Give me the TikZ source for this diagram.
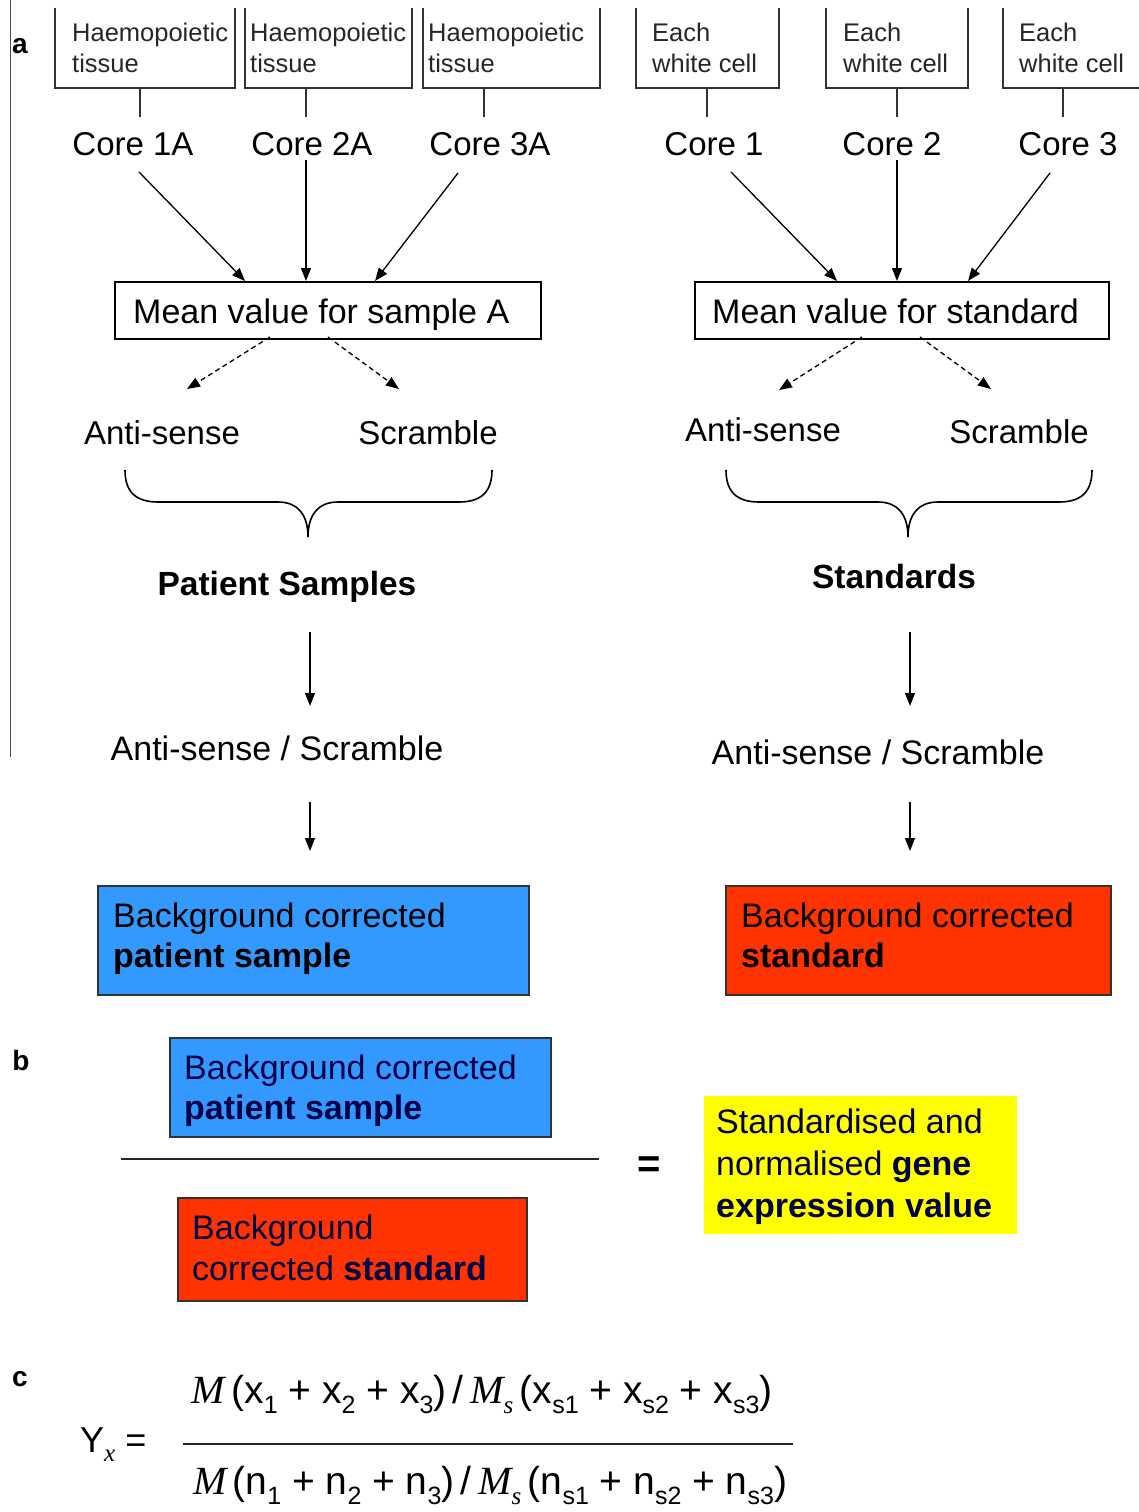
\documentclass[tikz,border=0pt]{standalone}
\usepackage{fontspec}
\setmainfont{Liberation Sans}
\newfontfamily\serifit{Liberation Serif}
\usetikzlibrary{arrows.meta,calc}
\definecolor{boxblue}{RGB}{51,153,255}
\definecolor{boxred}{RGB}{255,51,0}
\definecolor{boxyellow}{RGB}{255,255,0}
\definecolor{navytxt}{RGB}{0,0,70}
\newcommand{\fs}[1]{\fontsize{#1}{#1}\selectfont}
\newcommand{\sbs}[1]{\raisebox{-0.27em}{\fs{25}#1}}
\newcommand{\sbi}[1]{\raisebox{-0.27em}{\fs{25}\serifit\itshape #1}}
\newcommand{\Mit}{{\serifit\itshape\fs{40}M}}
\begin{document}
\begin{tikzpicture}[x=1pt,y=-1pt,
  small/.style={font=\fs{25.5}, inner sep=0, anchor=base west, text=black!85},
  lab/.style={font=\fs{33}, inner sep=0, anchor=base},
  btxt/.style={font=\fs{34}, inner sep=0, anchor=base west},
  arr/.style={-{Triangle[length=13pt,width=10pt]}, line width=1.3pt},
  darr/.style={arr, dash pattern=on 5pt off 3.5pt},
  thinln/.style={line width=1.1pt, draw=black!80},
  meanbox/.style={draw, line width=1.3pt, inner sep=0},
  colbox/.style={draw=black!80, line width=1.6pt, inner sep=0},
  panel/.style={font=\bfseries\fs{28}, inner sep=0, anchor=base},
  brace/.style={line width=1.6pt},
]
\useasboundingbox (0,0) rectangle (1139,1512);

% panel letters and side rule
\node[panel] (pa) at (20,53) {a};
\node[panel] (pb) at (21,1070) {b};
\node[panel] (pc) at (20,1386) {c};
\draw[line width=0.8pt, black!70] (10,0) -- (10,757);

% ---------- top boxes, left ----------
\draw[thinln] (55,8) -- (55,88) -- (235,88) -- (235,8);
\draw[thinln] (245,8) -- (245,88) -- (412,88) -- (412,8);
\draw[thinln] (423,8) -- (423,88) -- (600,88) -- (600,8);
\node[small] (h1a) at (72,42) {Haemopoietic};
\node[small] (h1b) at (72,72) {tissue};
\node[small] (h2a) at (250,42) {Haemopoietic};
\node[small] (h2b) at (250,72) {tissue};
\node[small] (h3a) at (428,42) {Haemopoietic};
\node[small] (h3b) at (428,72) {tissue};
\coordinate (t1) at (140,88); \coordinate (t1e) at (140,117);
\coordinate (t2) at (306,88); \coordinate (t2e) at (306,117);
\coordinate (t3) at (484,88); \coordinate (t3e) at (484,117);
\draw[thinln] (t1) -- (t1e);
\draw[thinln] (t2) -- (t2e);
\draw[thinln] (t3) -- (t3e);

% ---------- top boxes, right ----------
\draw[thinln] (636,8) -- (636,88) -- (779,88) -- (779,8);
\draw[thinln] (826,8) -- (826,88) -- (968,88) -- (968,8);
\draw[thinln] (1003,8) -- (1003,88) -- (1139,88);
\node[small] (e1a) at (652,42) {Each};
\node[small] (e1b) at (652,72) {white cell};
\node[small] (e2a) at (843,42) {Each};
\node[small] (e2b) at (843,72) {white cell};
\node[small] (e3a) at (1019,42) {Each};
\node[small] (e3b) at (1019,72) {white cell};
\coordinate (t4) at (707,88); \coordinate (t4e) at (707,117);
\coordinate (t5) at (897,88); \coordinate (t5e) at (897,117);
\coordinate (t6) at (1063,88); \coordinate (t6e) at (1063,117);
\draw[thinln] (t4) -- (t4e);
\draw[thinln] (t5) -- (t5e);
\draw[thinln] (t6) -- (t6e);

% ---------- cores ----------
\node[lab] (c1a) at (133,155) {Core 1A};
\node[lab] (c2a) at (312,155) {Core 2A};
\node[lab] (c3a) at (490,155) {Core 3A};
\node[lab] (c1) at (714,155) {Core 1};
\node[lab] (c2) at (892,155) {Core 2};
\node[lab] (c3) at (1068,155) {Core 3};

% ---------- mean boxes ----------
\node[meanbox, minimum width=426pt, minimum height=57pt] (meanA) at (328,310.5) {};
\node[btxt] (meanAt) at (133,323) {Mean value for sample A};
\node[meanbox, minimum width=414pt, minimum height=57pt] (meanS) at (902,310.5) {};
\node[btxt] (meanSt) at (712,323) {Mean value for standard};

\coordinate (a1s) at (139,172); \coordinate (a1e) at (245,281);
\coordinate (a2s) at (306,160); \coordinate (a2e) at (306,281);
\coordinate (a3s) at (458,173); \coordinate (a3e) at (375,281);
\draw[arr] (a1s) -- (a1e);
\draw[arr] (a2s) -- (a2e);
\draw[arr] (a3s) -- (a3e);
\coordinate (b1s) at (731,172); \coordinate (b1e) at (837,281);
\coordinate (b2s) at (897,160); \coordinate (b2e) at (897,281);
\coordinate (b3s) at (1050,173); \coordinate (b3e) at (968,281);
\draw[arr] (b1s) -- (b1e);
\draw[arr] (b2s) -- (b2e);
\draw[arr] (b3s) -- (b3e);

% ---------- anti-sense / scramble ----------
\node[lab] (asA) at (162,444) {Anti-sense};
\node[lab] (scA) at (428,444) {Scramble};
\node[lab] (asS) at (763,441) {Anti-sense};
\node[lab] (scS) at (1019,443) {Scramble};
\draw[darr] (270,337) -- (187,389);
\draw[darr] (328,337) -- (399,389);
\draw[darr] (862,337) -- (779,390);
\draw[darr] (920,337) -- (991,389);

% ---------- braces ----------
\draw[brace] (125,470) .. controls (125,492) and (136,502) .. (158,502) -- (278,502)
  .. controls (298,502) and (308,515) .. (308,537)
  .. controls (308,515) and (318,502) .. (338,502) -- (459,502)
  .. controls (481,502) and (492,492) .. (492,470);
\draw[brace] (726,470) .. controls (726,492) and (737,502) .. (759,502) -- (878,502)
  .. controls (898,502) and (908,515) .. (908,537)
  .. controls (908,515) and (918,502) .. (938,502) -- (1059,502)
  .. controls (1081,502) and (1092,492) .. (1092,470);

\node[lab, font=\bfseries\fs{33.5}] (ps) at (287,595) {Patient Samples};
\node[lab, font=\bfseries\fs{33.5}] (st) at (894,588) {Standards};

\coordinate (p1s) at (310,632); \coordinate (p1e) at (310,706);
\coordinate (q1s) at (910,632); \coordinate (q1e) at (910,706);
\draw[arr] (p1s) -- (p1e);
\draw[arr] (q1s) -- (q1e);
\node[lab, font=\fs{34}] (rA) at (277,760) {Anti-sense / Scramble};
\node[lab, font=\fs{34}] (rS) at (878,764) {Anti-sense / Scramble};
\coordinate (p2s) at (310,802); \coordinate (p2e) at (310,851);
\coordinate (q2s) at (910,802); \coordinate (q2e) at (910,851);
\draw[arr] (p2s) -- (p2e);
\draw[arr] (q2s) -- (q2e);

% ---------- coloured boxes a ----------
\node[colbox, fill=boxblue, minimum width=431pt, minimum height=109pt] (blueA) at (313.5,940.5) {};
\node[btxt] (blueA1) at (113,927) {Background corrected};
\node[btxt] (blueA2) at (113,967) {\bfseries patient sample};
\node[colbox, fill=boxred, minimum width=385pt, minimum height=109pt] (redA) at (918.5,940.5) {};
\node[btxt] (redA1) at (741,927) {Background corrected};
\node[btxt] (redA2) at (741,967) {\bfseries standard};

% ---------- b ----------
\node[colbox, fill=boxblue, minimum width=381pt, minimum height=99pt] (blueB) at (360.5,1087.5) {};
\node[btxt, text=navytxt] (blueB1) at (184,1079) {Background corrected};
\node[btxt, text=navytxt] (blueB2) at (184,1119) {\bfseries patient sample};
\coordinate (fl1) at (121,1159); \coordinate (fl2) at (599,1159);
\draw[line width=1.8pt, black!85] (fl1) -- (fl2);
\node[colbox, fill=boxred, minimum width=349pt, minimum height=103pt] (redB) at (352.5,1249.5) {};
\node[btxt, text=navytxt] (redB1) at (192,1239) {Background};
\node[btxt, text=navytxt] (redB2) at (192,1280) {corrected \bfseries standard};
\node[lab, font=\bfseries\fs{40}] (eqB) at (649,1177) {=};
\node[fill=boxyellow, minimum width=313pt, minimum height=138pt, inner sep=0] (yel) at (860.5,1165) {};
\node[btxt, text=navytxt] (yel1) at (716,1133) {Standardised and};
\node[btxt, text=navytxt] (yel2) at (716,1175) {normalised \bfseries gene};
\node[btxt, text=navytxt] (yel3) at (716,1217) {\bfseries expression value};

% ---------- c ----------
\node[btxt, font=\fs{36}] (yx) at (80,1452) {Y\sbi{x} =};
\node[lab, font=\fs{39}] (num) at (482,1403) {\Mit\,(x\sbs{1} + x\sbs{2} + x\sbs{3})\,/\,\Mit\sbi{s}\,(x\sbs{s1} + x\sbs{s2} + x\sbs{s3})};
\coordinate (cl1) at (183,1444); \coordinate (cl2) at (793,1444);
\draw[line width=1.5pt, black!85] (cl1) -- (cl2);
\node[lab, font=\fs{39}] (den) at (490,1494) {\Mit\,(n\sbs{1} + n\sbs{2} + n\sbs{3})\,/\,\Mit\sbi{s}\,(n\sbs{s1} + n\sbs{s2} + n\sbs{s3})};
\end{tikzpicture}
\end{document}
